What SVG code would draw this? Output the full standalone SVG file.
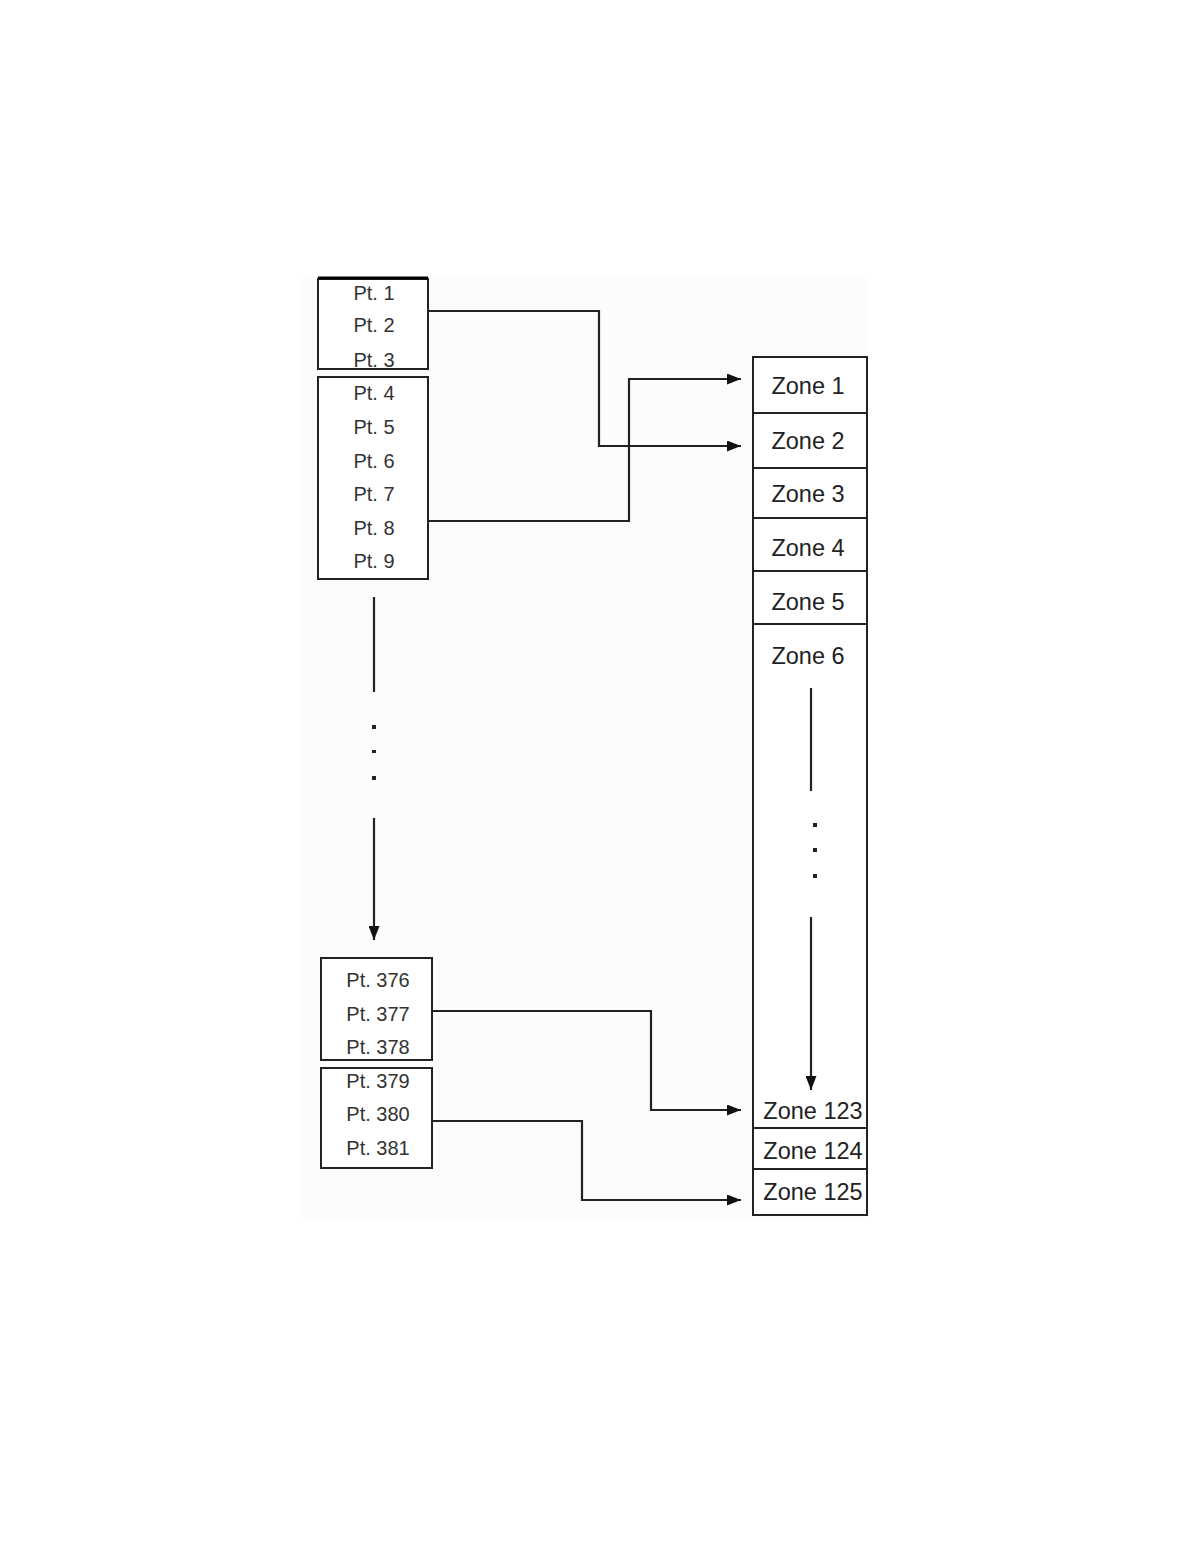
<svg xmlns="http://www.w3.org/2000/svg" width="1204" height="1566" viewBox="0 0 1204 1566">
<style>
.box{fill:#fff;stroke:#222;stroke-width:2}
.pt{font-family:"Liberation Sans",Arial,sans-serif;font-size:20px;fill:#333;text-anchor:middle}
.zn{font-family:"Liberation Sans",Arial,sans-serif;font-size:23.5px;fill:#222;text-anchor:middle}
.ln{fill:none;stroke:#222;stroke-width:2.2}
.dot{fill:#222}
</style>
<defs>
<marker id="ah" viewBox="0 0 14 11" refX="14" refY="5.5" markerWidth="14" markerHeight="11" markerUnits="userSpaceOnUse" orient="auto">
<path d="M0,0 L14,5.5 L0,11 z" fill="#111"/>
</marker>
</defs>
<rect x="0" y="0" width="1204" height="1566" fill="#fff"/>
<rect x="300" y="276" width="568" height="944" fill="#fcfcfc"/>
<g id="pts1-3">
<rect class="box" x="318" y="279" width="110" height="90"/>
<line x1="318" y1="278" x2="428" y2="278" stroke="#000" stroke-width="3"/>
<text class="pt" x="374" y="300">Pt. 1</text>
<text class="pt" x="374" y="332">Pt. 2</text>
<text class="pt" x="374" y="367">Pt. 3</text>
</g>
<g id="pts4-9">
<rect class="box" x="318" y="377" width="110" height="202"/>
<text class="pt" x="374" y="400">Pt. 4</text>
<text class="pt" x="374" y="434">Pt. 5</text>
<text class="pt" x="374" y="468">Pt. 6</text>
<text class="pt" x="374" y="501">Pt. 7</text>
<text class="pt" x="374" y="535">Pt. 8</text>
<text class="pt" x="374" y="568">Pt. 9</text>
</g>
<g id="pts376-378">
<rect class="box" x="321" y="958" width="111" height="102"/>
<text class="pt" x="378" y="987">Pt. 376</text>
<text class="pt" x="378" y="1021">Pt. 377</text>
<text class="pt" x="378" y="1054">Pt. 378</text>
</g>
<g id="pts379-381">
<rect class="box" x="321" y="1068" width="111" height="100"/>
<text class="pt" x="378" y="1088">Pt. 379</text>
<text class="pt" x="378" y="1121">Pt. 380</text>
<text class="pt" x="378" y="1155">Pt. 381</text>
</g>
<g id="zones">
<rect class="box" x="753" y="357" width="114" height="858"/>
<line class="ln" x1="753" y1="413" x2="867" y2="413"/>
<line class="ln" x1="753" y1="468" x2="867" y2="468"/>
<line class="ln" x1="753" y1="518" x2="867" y2="518"/>
<line class="ln" x1="753" y1="571" x2="867" y2="571"/>
<line class="ln" x1="753" y1="624" x2="867" y2="624"/>
<line class="ln" x1="753" y1="1128" x2="867" y2="1128"/>
<line class="ln" x1="753" y1="1169" x2="867" y2="1169"/>
<text class="zn" x="808" y="394">Zone 1</text>
<text class="zn" x="808" y="449">Zone 2</text>
<text class="zn" x="808" y="502">Zone 3</text>
<text class="zn" x="808" y="556">Zone 4</text>
<text class="zn" x="808" y="610">Zone 5</text>
<text class="zn" x="808" y="664">Zone 6</text>
<text class="zn" x="813" y="1119">Zone 123</text>
<text class="zn" x="813" y="1159">Zone 124</text>
<text class="zn" x="813" y="1200">Zone 125</text>
</g>
<g id="connectors">
<polyline class="ln" points="428,311 599,311 599,446 741,446" marker-end="url(#ah)"/>
<polyline class="ln" points="428,521 629,521 629,379 741,379" marker-end="url(#ah)"/>
<polyline class="ln" points="432,1011 651,1011 651,1110 741,1110" marker-end="url(#ah)"/>
<polyline class="ln" points="432,1121 582,1121 582,1200 741,1200" marker-end="url(#ah)"/>
<line class="ln" x1="374" y1="597" x2="374" y2="692"/>
<line class="ln" x1="374" y1="818" x2="374" y2="940" marker-end="url(#ah)"/>
<rect class="dot" x="372" y="725" width="4" height="4"/>
<rect class="dot" x="372" y="750" width="4" height="3"/>
<rect class="dot" x="372" y="776" width="4" height="4"/>
<line class="ln" x1="811" y1="688" x2="811" y2="791"/>
<line class="ln" x1="811" y1="917" x2="811" y2="1090" marker-end="url(#ah)"/>
<rect class="dot" x="813" y="823" width="4" height="4"/>
<rect class="dot" x="813" y="848" width="4" height="4"/>
<rect class="dot" x="813" y="874" width="4" height="4"/>
</g>
</svg>
